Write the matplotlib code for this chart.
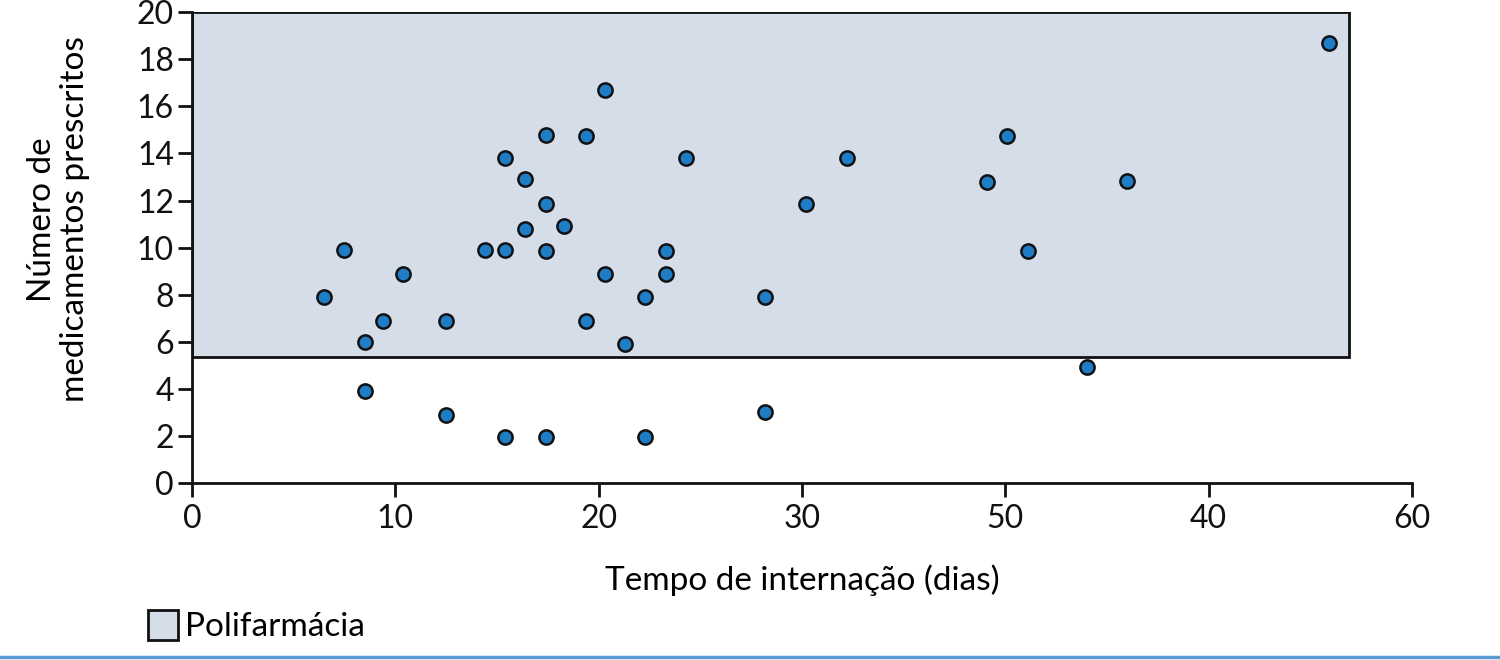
import matplotlib
matplotlib.use("Agg")
import matplotlib.pyplot as plt
from matplotlib.patches import Rectangle

plt.rcParams['font.family'] = ['Lato', 'DejaVu Sans']

# Tempo de internação (dias) e número de medicamentos de cada paciente
tempo = [6.5, 7.5, 8.5, 8.5, 9.4, 10.4, 12.5, 12.5, 14.4, 15.4, 15.4, 15.4,
         16.4, 16.4, 17.4, 17.4, 17.4, 17.4, 18.3, 19.4, 19.4, 20.3, 20.3,
         21.3, 22.3, 22.3, 23.3, 23.3, 24.3, 28.2, 28.2, 30.2, 32.2, 39.1,
         40.1, 41.1, 44.0, 46.0, 55.9]
medicamentos = [7.9, 9.9, 6.0, 3.9, 6.9, 8.9, 6.9, 2.9, 9.9, 9.9, 13.8, 1.95,
                12.9, 10.8, 14.8, 11.85, 9.85, 1.95, 10.9, 14.75, 6.9, 16.7, 8.9,
                5.9, 7.9, 1.95, 9.85, 8.9, 13.8, 7.9, 3.0, 11.85, 13.8, 12.8,
                14.75, 9.85, 4.95, 12.85, 18.7]

# Zona de polifarmácia
poli_x = [0, 56.9]
poli_y = [5.35, 20]

xticks = [0, 10, 20, 30, 40, 50, 60]
xtick_labels = ["0", "10", "20", "30", "50", "40", "60"]
yticks = list(range(0, 21, 2))

fig = plt.figure(figsize=(15, 6.6), dpi=100)
ax = fig.add_axes([0.128, 0.268, 0.8133, 0.7135])

cor_zona = "#d5dde8"
ax.add_patch(Rectangle((poli_x[0], poli_y[0]), poli_x[1] - poli_x[0],
                       poli_y[1] - poli_y[0], facecolor=cor_zona,
                       edgecolor="#111111", linewidth=2, zorder=1))

ax.scatter(tempo, medicamentos, s=105, color="#1f7dc6", edgecolors="#111111",
           linewidths=1.8, zorder=3, clip_on=False)

ax.set_xlim(0, 60)
ax.set_ylim(0, 20)
ax.set_xticks(xticks)
ax.set_xticklabels(xtick_labels)
ax.set_yticks(yticks)

for s in ["top", "right"]:
    ax.spines[s].set_visible(False)
for s in ["left", "bottom"]:
    ax.spines[s].set_linewidth(2)
    ax.spines[s].set_color("#111111")
ax.tick_params(direction="out", length=10, width=2, labelsize=23, pad=3,
               colors="#111111")
ax.tick_params(axis="x", pad=5)

ax.set_xlabel("Tempo de internação (dias)", fontsize=24, labelpad=22)
ax.set_ylabel("Número de\nmedicamentos prescritos", fontsize=24,
              linespacing=1.1)
ax.yaxis.set_label_coords(-0.084, 0.56)

# legenda
fig.patches.append(Rectangle((148 / 1500, 1 - 640 / 660), 30 / 1500, 30 / 660,
                             transform=fig.transFigure, facecolor=cor_zona,
                             edgecolor="#111111", linewidth=2))
fig.text(185 / 1500, 1 - 627 / 660, "Polifarmácia", fontsize=24,
         va="center", ha="left")

# linha azul no rodapé
fig.add_artist(plt.Line2D([0, 1], [1 - 657 / 660] * 2,
                          transform=fig.transFigure, color="#5b9bd5",
                          linewidth=2.5))

fig.savefig("out.png", dpi=100)
